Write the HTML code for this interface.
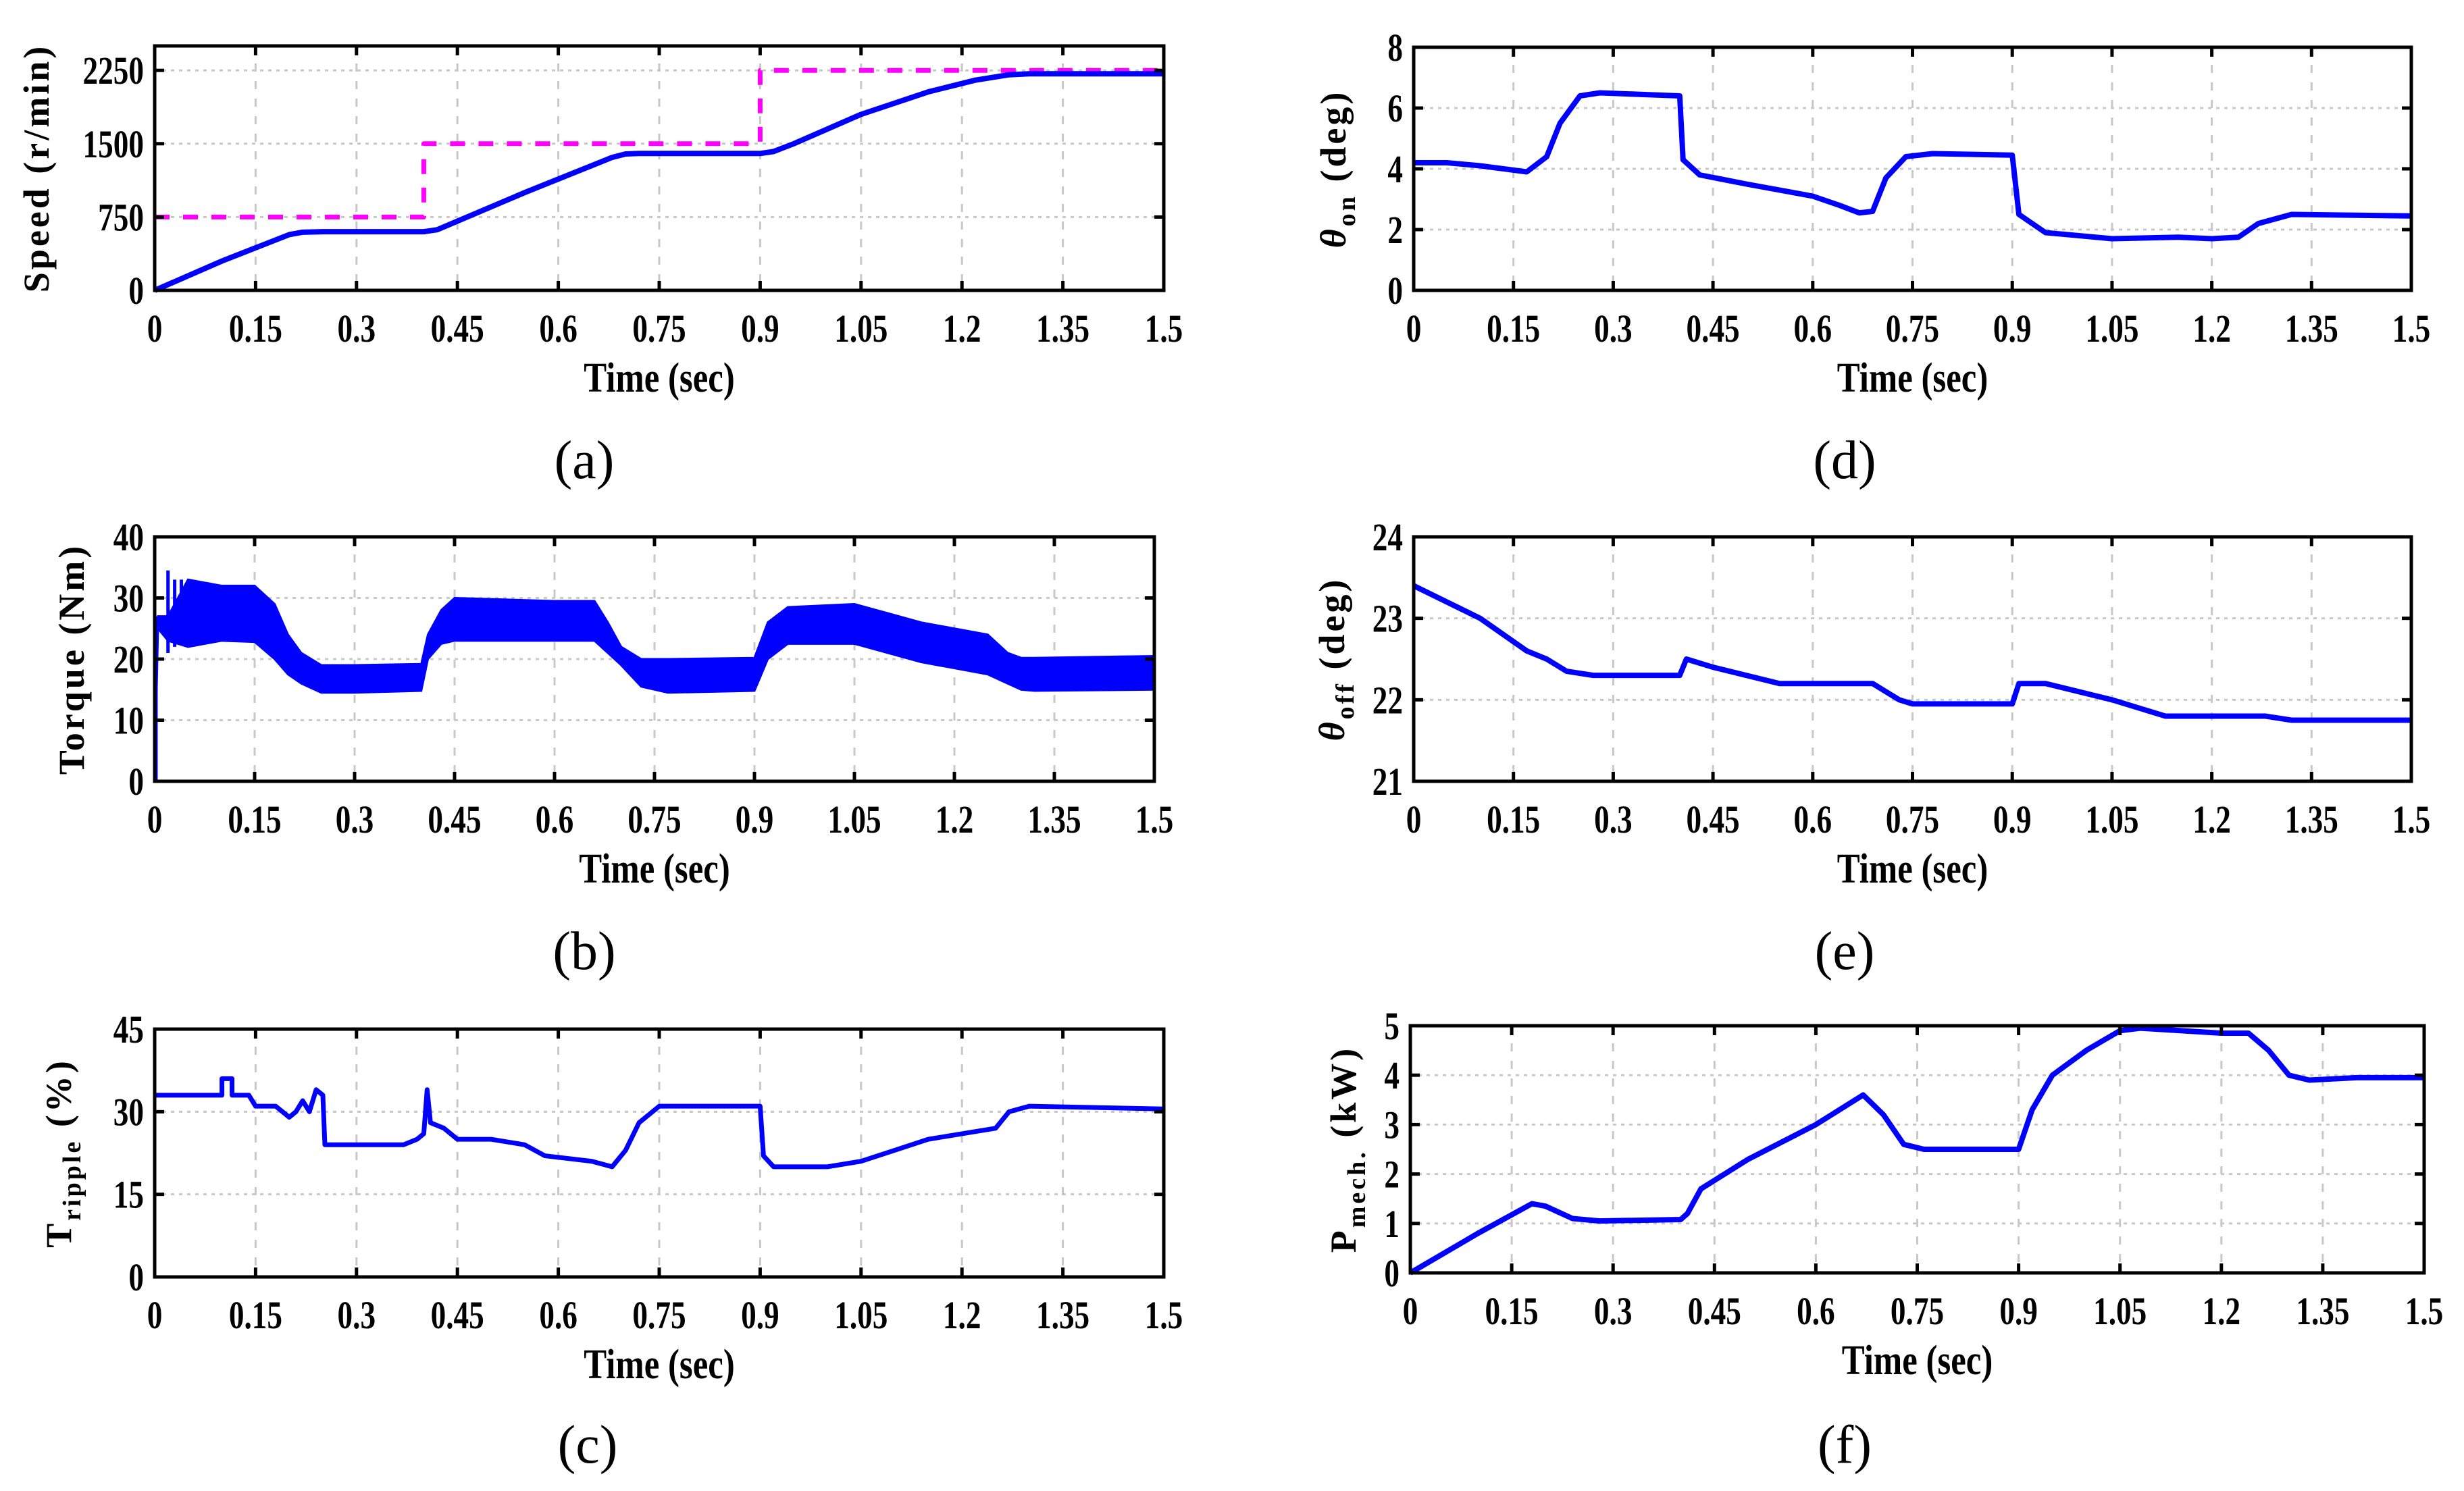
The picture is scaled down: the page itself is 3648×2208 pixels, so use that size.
<!DOCTYPE html>
<html><head><meta charset="utf-8">
<style>
html,body{margin:0;padding:0;background:#fff;}
svg{display:block;}
text{font-family:"Liberation Serif",serif;fill:#000;}
</style></head>
<body>
<svg id="fig" width="3648" height="2208" viewBox="0 0 3648 2208" xmlns="http://www.w3.org/2000/svg"></svg>
<script>
// ---- data arrays ----
const xTicks = [0,0.15,0.3,0.45,0.6,0.75,0.9,1.05,1.2,1.35,1.5];
const xTickLabels = ["0","0.15","0.3","0.45","0.6","0.75","0.9","1.05","1.2","1.35","1.5"];

const speedRefT = [0,0.4,0.4,0.9,0.9,1.5];
const speedRefV = [750,750,1500,1500,2250,2250];
const speedT = [0,0.1,0.2,0.22,0.25,0.4,0.42,0.55,0.68,0.7,0.72,0.9,0.92,0.95,1.05,1.15,1.22,1.27,1.3,1.5];
const speedV = [0,300,570,595,600,600,620,1000,1360,1395,1400,1400,1420,1500,1800,2030,2150,2205,2215,2215];
const speedTicks = [0,750,1500,2250];

const torqueT = [0,0.005,0.02,0.05,0.1,0.15,0.18,0.2,0.22,0.25,0.3,0.4,0.41,0.43,0.45,0.6,0.66,0.68,0.7,0.73,0.77,0.9,0.92,0.95,1.05,1.1,1.15,1.2,1.25,1.28,1.3,1.32,1.5];
const torqueUpper = [0,27,27,33,32,32,29,24,21,19,19,19.2,24,28,30,29.5,29.5,26,22,20,20,20.2,26,28.5,29,27.5,26,25,24,21,20.2,20.2,20.5];
const torqueLower = [0,25,23,22,23,22.8,20,17.5,16,14.5,14.5,14.8,20,22.5,23,23,23,21,19,15.5,14.5,14.8,20,22.5,22.5,21,19.5,18.5,17.5,16,15,14.8,15];
const torqueSpikeT = [0.02,0.03,0.04,0.05,0.06,0.07,0.08];
const torqueSpikeHi = [34.5,33,33,32.5,32.5,32.5,32];
const torqueSpikeLo = [21,22,22.5,22.5,22.5,23,23];
const torqueTicks = [0,10,20,30,40];

const rippleT = [0,0.1,0.1,0.115,0.115,0.14,0.15,0.18,0.2,0.21,0.22,0.23,0.24,0.25,0.253,0.3,0.33,0.37,0.39,0.4,0.405,0.41,0.43,0.45,0.5,0.55,0.58,0.65,0.68,0.7,0.72,0.75,0.9,0.905,0.92,1.0,1.05,1.1,1.15,1.2,1.25,1.27,1.3,1.5];
const rippleV = [33,33,36,36,33,33,31,31,29,30,32,30,34,33,24,24,24,24,25,26,34,28,27,25,25,24,22,21,20,23,28,31,31,22,20,20,21,23,25,26,27,30,31,30.5];
const rippleTicks = [0,15,30,45];

const thetaOnT = [0,0.05,0.1,0.17,0.2,0.22,0.25,0.28,0.4,0.405,0.43,0.5,0.6,0.64,0.67,0.69,0.71,0.74,0.78,0.9,0.91,0.95,1.05,1.15,1.2,1.24,1.27,1.32,1.5];
const thetaOnV = [4.2,4.2,4.1,3.9,4.4,5.5,6.4,6.5,6.4,4.3,3.8,3.5,3.1,2.8,2.55,2.6,3.7,4.4,4.5,4.45,2.5,1.9,1.7,1.75,1.7,1.75,2.2,2.5,2.45];
const thetaOnTicks = [0,2,4,6,8];

const thetaOffT = [0,0.1,0.17,0.2,0.23,0.27,0.4,0.41,0.45,0.55,0.69,0.73,0.75,0.9,0.91,0.95,1.05,1.13,1.28,1.32,1.5];
const thetaOffV = [23.4,23.0,22.6,22.5,22.35,22.3,22.3,22.5,22.4,22.2,22.2,22.0,21.95,21.95,22.2,22.2,22.0,21.8,21.8,21.75,21.75];
const thetaOffTicks = [21,22,23,24];

const pmechT = [0,0.1,0.18,0.2,0.24,0.28,0.4,0.41,0.43,0.5,0.6,0.67,0.7,0.73,0.76,0.9,0.92,0.95,1.0,1.05,1.08,1.2,1.24,1.27,1.3,1.33,1.4,1.5];
const pmechV = [0,0.8,1.4,1.35,1.1,1.05,1.08,1.2,1.7,2.3,3.0,3.6,3.2,2.6,2.5,2.5,3.3,4.0,4.5,4.9,4.95,4.85,4.85,4.5,4.0,3.9,3.95,3.95];
const pmechTicks = [0,1,2,3,4,5];

// ---- drawing ----
const NS = "http://www.w3.org/2000/svg";
const svg = document.getElementById("fig");
function mk(tag, parent){ const e = document.createElementNS(NS, tag); parent.appendChild(e); return e; }

function makeAxes(p){
  const g = mk("g", svg);
  
  
  const sx = t => p.L + (t - 0) / 1.5 * (p.R - p.L);
  const sy = v => p.B - (v - p.ymin) / (p.ymax - p.ymin) * (p.B - p.T);
  xTicks.forEach((t,i)=>{
    if(i===0||i===xTicks.length-1) return;
    const l = mk("line", g);
    
    
    l.setAttribute("x1",sx(t));l.setAttribute("x2",sx(t));l.setAttribute("y1",p.T);l.setAttribute("y2",p.B);
    l.setAttribute("stroke","#c8c8c8");l.setAttribute("stroke-width","3");l.setAttribute("stroke-dasharray","12 14");
  });
  p.yTicks.forEach((v,i)=>{
    if(v===p.ymin||v===p.ymax) return;
    const l = mk("line", g);
    
    
    l.setAttribute("x1",p.L);l.setAttribute("x2",p.R);l.setAttribute("y1",sy(v));l.setAttribute("y2",sy(v));
    l.setAttribute("stroke","#c8c8c8");l.setAttribute("stroke-width","3");l.setAttribute("stroke-dasharray","5 7");
  });
  return {g, sx, sy};
}

function finishAxes(p, ax){
  const g = ax.g, sx = ax.sx, sy = ax.sy;
  xTicks.forEach((t,i)=>{
    [[p.B,p.B-14],[p.T,p.T+14]].forEach(([a,b])=>{
      const l = mk("line", g);
      
      
      l.setAttribute("x1",sx(t));l.setAttribute("x2",sx(t));l.setAttribute("y1",a);l.setAttribute("y2",b);
      l.setAttribute("stroke","#000");l.setAttribute("stroke-width","5");
    });
    const tx = mk("text", g);
    
    
    tx.setAttribute("transform",`translate(${sx(t)},${p.B+76}) scale(0.78,1)`);
    tx.setAttribute("text-anchor","middle");tx.setAttribute("font-size","58");tx.setAttribute("font-weight","bold");
    tx.textContent = xTickLabels[i];
  });
  p.yTicks.forEach(v=>{
    [[p.L,p.L+14],[p.R,p.R-14]].forEach(([a,b])=>{
      const l = mk("line", g);
      
      
      l.setAttribute("x1",a);l.setAttribute("x2",b);l.setAttribute("y1",sy(v));l.setAttribute("y2",sy(v));
      l.setAttribute("stroke","#000");l.setAttribute("stroke-width","5");
    });
    const tx = mk("text", g);
    
    
    tx.setAttribute("transform",`translate(${p.L-16},${sy(v)+20}) scale(0.78,1)`);
    tx.setAttribute("text-anchor","end");tx.setAttribute("font-size","58");tx.setAttribute("font-weight","bold");
    tx.textContent = String(v);
  });
  const r = mk("rect", g);
  
  
  r.setAttribute("x",p.L);r.setAttribute("y",p.T);r.setAttribute("width",p.R-p.L);r.setAttribute("height",p.B-p.T);
  r.setAttribute("fill","none");r.setAttribute("stroke","#000");r.setAttribute("stroke-width","5");
  const xl = mk("text", g);
  
  
  xl.setAttribute("transform",`translate(${(p.L+p.R)/2},${p.B+150}) scale(0.82,1)`);
  xl.setAttribute("text-anchor","middle");xl.setAttribute("font-size","62");xl.setAttribute("font-weight","bold");
  xl.textContent = "Time (sec)";
  const yl = mk("text", g);
  
  
  yl.setAttribute("transform",`translate(${p.ylx},${(p.T+p.B)/2}) rotate(-90)`);
  yl.setAttribute("text-anchor","middle");yl.setAttribute("font-size","54");yl.setAttribute("font-weight","bold");
  yl.setAttribute("letter-spacing","4");
  yl.innerHTML = p.ylabel;
  const c = mk("text", g);
  
  
  c.setAttribute("x",p.capx);c.setAttribute("y",p.capy);
  c.setAttribute("text-anchor","middle");c.setAttribute("font-size","80");
  c.textContent = p.cap;
}

function line(ax, ts, vs, color, w, dash, name){
  const pl = mk("polyline", ax.g);
  
  
  pl.setAttribute("points", ts.map((t,i)=>ax.sx(t)+","+ax.sy(vs[i])).join(" "));
  pl.setAttribute("fill","none");pl.setAttribute("stroke",color);pl.setAttribute("stroke-width",w);
  pl.setAttribute("stroke-linejoin","round");
  if(dash) pl.setAttribute("stroke-dasharray",dash);
}

// (a)
let pa = {id:"speed-panel",L:229,R:1723,T:68,B:430,ymin:0,ymax:2500,yTicks:speedTicks,ylx:72,
  ylabel:"Speed (r/min)",cap:"(a)",capx:865,capy:708};
let axa = makeAxes(pa);
line(axa, speedRefT, speedRefV, "#ff00ff", 7, "22 20", "speed-reference-line");
line(axa, speedT, speedV, "#0000ff", 8, null, "speed-line");
finishAxes(pa, axa);

// (b)
let pb = {id:"torque-panel",L:229,R:1709,T:795,B:1157,ymin:0,ymax:40,yTicks:torqueTicks,ylx:124,
  ylabel:"Torque (Nm)",cap:"(b)",capx:865,capy:1435};
let axb = makeAxes(pb);
{
  const pts = torqueT.map((t,i)=>axb.sx(t)+","+axb.sy(torqueUpper[i]));
  const low = torqueT.map((t,i)=>axb.sx(t)+","+axb.sy(torqueLower[i])).reverse();
  const band = mk("polygon", axb.g);
  
  
  band.setAttribute("points", pts.concat(low).join(" "));
  band.setAttribute("fill","#0000ff");band.setAttribute("stroke","#0000ff");band.setAttribute("stroke-width","3");
  torqueSpikeT.forEach((t,i)=>{
    const l = mk("line", axb.g);
    
    
    l.setAttribute("x1",axb.sx(t));l.setAttribute("x2",axb.sx(t));
    l.setAttribute("y1",axb.sy(torqueSpikeHi[i]));l.setAttribute("y2",axb.sy(torqueSpikeLo[i]));
    l.setAttribute("stroke","#0000ff");l.setAttribute("stroke-width","5");
  });
  const s = mk("line", axb.g);
  
  
  s.setAttribute("x1",axb.sx(0.002));s.setAttribute("x2",axb.sx(0.002));
  s.setAttribute("y1",axb.sy(0));s.setAttribute("y2",axb.sy(27));
  s.setAttribute("stroke","#0000ff");s.setAttribute("stroke-width","5");
}
finishAxes(pb, axb);

// (c)
let pc = {id:"ripple-panel",L:229,R:1723,T:1524,B:1891,ymin:0,ymax:45,yTicks:rippleTicks,ylx:105,
  ylabel:'T<tspan font-size="38" dy="14">ripple</tspan><tspan dy="-14"> (%)</tspan>',cap:"(c)",capx:870,capy:2166};
let axc = makeAxes(pc);
line(axc, rippleT, rippleV, "#0000ff", 7, null, "torque-ripple-line");
finishAxes(pc, axc);

// (d)
let pd = {id:"theta-on-panel",L:2093,R:3570,T:70,B:430,ymin:0,ymax:8,yTicks:thetaOnTicks,ylx:1992,
  ylabel:'<tspan font-style="italic">θ</tspan><tspan font-size="38" dy="14">on</tspan><tspan dy="-14"> (deg)</tspan>',cap:"(d)",capx:2731,capy:708};
let axd = makeAxes(pd);
line(axd, thetaOnT, thetaOnV, "#0000ff", 8, null, "theta-on-line");
finishAxes(pd, axd);

// (e)
let pe = {id:"theta-off-panel",L:2093,R:3570,T:795,B:1157,ymin:21,ymax:24,yTicks:thetaOffTicks,ylx:1990,
  ylabel:'<tspan font-style="italic">θ</tspan><tspan font-size="38" dy="14">off</tspan><tspan dy="-14"> (deg)</tspan>',cap:"(e)",capx:2731,capy:1435};
let axe = makeAxes(pe);
line(axe, thetaOffT, thetaOffV, "#0000ff", 8, null, "theta-off-line");
finishAxes(pe, axe);

// (f)
let pf = {id:"power-panel",L:2088,R:3589,T:1519,B:1885,ymin:0,ymax:5,yTicks:pmechTicks,ylx:2007,
  ylabel:'P<tspan font-size="38" dy="14">mech.</tspan><tspan dy="-14"> (kW)</tspan>',cap:"(f)",capx:2731,capy:2166};
let axf = makeAxes(pf);
line(axf, pmechT, pmechV, "#0000ff", 8, null, "mechanical-power-line");
finishAxes(pf, axf);
</script>
</body></html>
